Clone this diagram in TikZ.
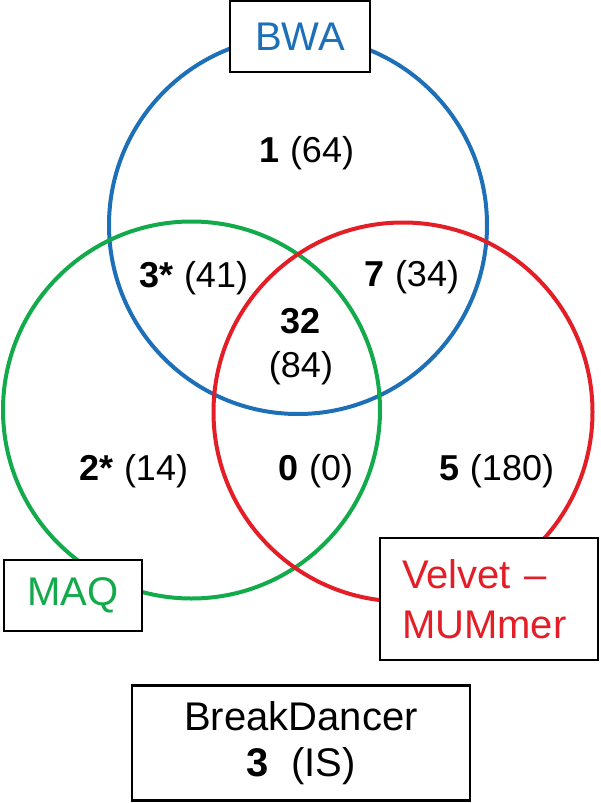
\documentclass[tikz,border=0pt]{standalone}
\usepackage{fontspec}
\setmainfont{Liberation Sans}
\definecolor{vblue}{RGB}{29,112,183}
\definecolor{vgreen}{RGB}{18,170,74}
\definecolor{vred}{RGB}{228,30,38}
\tikzset{
  ring/.style={line width=4pt},
  lab/.style={draw=black, line width=2.5pt, fill=white, inner sep=0pt,
    font=\fontsize{40}{50}\selectfont},
  num/.style={anchor=base, inner sep=0pt, font=\fontsize{36}{43}\selectfont}
}
\begin{document}
\begin{tikzpicture}[x=1pt,y=-1pt]
\useasboundingbox (0,0) rectangle (600,803);
% circles
\coordinate (cb) at (298,225);
\coordinate (cg) at (191.5,410);
\coordinate (cr) at (403,412);
\draw[ring, vblue] (cb) circle[radius=189];
\draw[ring, vgreen] (cg) circle[radius=188.5];
\draw[ring, vred] (cr) circle[radius=189.5];
% region counts
\node[num] (r1) at (307,162) {\textbf{1} (64)};
\node[num] (r3) at (194,287) {\textbf{3*} (41)};
\node[num] (r7) at (412,286) {\textbf{7} (34)};
\node[num] (r32) at (301,333) {\textbf{32}};
\node[num] (r84) at (301,377) {(84)};
\node[num] (r2) at (134,480) {\textbf{2*} (14)};
\node[num] (r0) at (316,480) {\textbf{0} (0)};
\node[num] (r5) at (497,480) {\textbf{5} (180)};
% labels
\node[lab, text=vblue, minimum width=140, minimum height=71] (bwa) at (300,36.5) {BWA};
\node[lab, text=vgreen, minimum width=138, minimum height=71] (maq) at (73,595.5) {MAQ};
\node[lab, text=vred, minimum width=218, minimum height=122, text width=174, align=left] (vel) at (489,599) {Velvet --\\MUMmer};
\node[lab, text=black, minimum width=338, minimum height=115, align=center,
  font=\fontsize{40}{46}\selectfont] (bd) at (301,743) {BreakDancer\\\textbf{3}\ \ (IS)};
\end{tikzpicture}
\end{document}
